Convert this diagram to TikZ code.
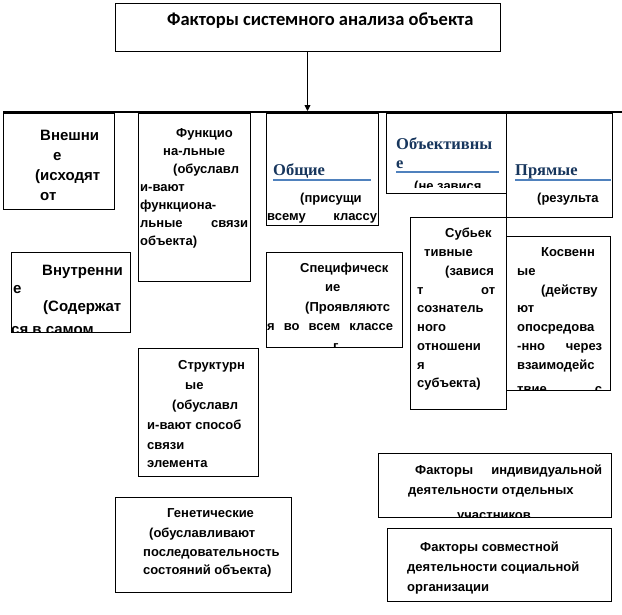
\documentclass[tikz,border=0pt]{standalone}
\usepackage{fontspec}
\setmainfont{Liberation Sans}
\newfontfamily\ttlfont{Carlito}
\newfontfamily\hdfont{Liberation Serif}
\usetikzlibrary{fit,arrows.meta}
\definecolor{hdblue}{RGB}{23,54,93}
\definecolor{lineblue}{RGB}{79,129,189}
\newcount\tlc
\newcommand\tl[4][tx]{\global\advance\tlc by 1 \node[#1,anchor=base west] (t\the\tlc) at (#2,#3) {#4};}
\newcommand\sj[2]{\makebox[#1pt][s]{#2}}
\tikzset{
  box/.style={draw=black,line width=0.9pt,inner sep=0pt},
  tx/.style={inner sep=0pt,font=\bfseries\fontsize{13}{15}\selectfont},
  bigtx/.style={inner sep=0pt,font=\bfseries\fontsize{15}{17}\selectfont},
  hd/.style={inner sep=0pt,text=hdblue,font=\hdfont\bfseries\fontsize{16.5}{18}\selectfont},
  ttl/.style={inner sep=0pt,font=\ttlfont\bfseries\fontsize{18.5}{20}\selectfont},
  uline/.style={draw=lineblue,line width=1.5pt},
}
\begin{document}
\begin{tikzpicture}[x=1pt,y=-1pt]
\useasboundingbox (0,0) rectangle (622,614);
% title
\node[box,fit={(115,3) (500,51)}] (title) {};
\tl[ttl]{167}{25}{Факторы системного анализа объекта}
% bar
\coordinate (barL) at (3,112);
\coordinate (barR) at (622,112);
\draw[line width=2pt] (barL) -- (barR);
\coordinate (tip) at (title.south |- barL);
\draw[line width=0.9pt,-{Triangle[length=6pt,width=6pt]}] (title.south) -- ([yshift=1pt]tip);

% Внешние
\node[box,fit={(3,113) (114,209)}] (ext) {};
\begin{scope}\clip (ext.south west) rectangle (ext.north east);
\tl[bigtx]{40}{140}{Внешни}
\tl[bigtx]{53}{160}{е}
\tl[bigtx]{35}{180}{(исходят}
\tl[bigtx]{40}{200}{от}
\end{scope}

% Функциональные
\node[box,fit={(138,113) (250,281)}] (func) {};
\begin{scope}\clip (func.south west) rectangle (func.north east);
\tl{176}{137}{Функцио}
\tl{163}{155}{на-льные}
\tl{173}{173}{(обуславл}
\tl{140}{191}{и-вают}
\tl{140}{209}{функциона-}
\tl{140}{227}{\sj{108}{льные связи}}
\tl{140}{245}{объекта)}
\end{scope}

% Общие
\node[box,fit={(266,113) (378,225)}] (gen) {};
\begin{scope}\clip (gen.south west) rectangle (gen.north east);
\tl[hd]{273}{175}{Общие}
\draw[uline] (273,180) -- (371,180);
\tl{300}{202}{(присущи}
\tl{267}{220}{\sj{110}{всему классу}}
\end{scope}

% Объективные
\node[box,fit={(386,113) (506,193)}] (obj) {};
\begin{scope}\clip (obj.south west) rectangle (obj.north east);
\tl[hd]{396}{149}{Объективны}
\tl[hd]{396}{168}{е}
\draw[uline] (396,172) -- (499,172);
\end{scope}
\begin{scope}\clip (386,177) rectangle (506,187);
\tl{414}{190}{(не завися}
\end{scope}

% Прямые
\node[box,fit={(506,113) (612,217)}] (dir) {};
\begin{scope}\clip (dir.south west) rectangle (dir.north east);
\tl[hd]{515}{175}{Прямые}
\draw[uline] (515,180) -- (611,180);
\tl{537}{202}{(результа}
\end{scope}

% Внутренние
\node[box,fit={(11,252) (130,332)}] (int) {};
\begin{scope}\clip (int.south west) rectangle (int.north east);
\tl[bigtx]{42}{275}{Внутренни}
\tl[bigtx]{13}{293}{е}
\tl[bigtx]{43}{311}{(Содержат}
\tl[bigtx]{11}{334}{ся в самом}
\end{scope}

% Специфические
\node[box,fit={(266,252) (402,347)}] (spec) {};
\begin{scope}\clip (spec.south west) rectangle (spec.north east);
\tl{300}{272}{Специфическ}
\tl{325}{291}{ие}
\tl{305}{311}{(Проявляютс}
\tl{267}{330}{\sj{126}{я во всем классе}}
\tl{333}{350}{г}
\end{scope}

% Субъективные
\node[box,fit={(410,217) (506,409)}] (subj) {};
\begin{scope}\clip (subj.south west) rectangle (subj.north east);
\tl{445}{237}{Субьек}
\tl{424}{256}{тивные}
\tl{445}{275}{(завися}
\tl{417}{294}{\sj{78}{т от}}
\tl{417}{312}{сознатель}
\tl{417}{331}{ного}
\tl{417}{350}{отношени}
\tl{417}{369}{я}
\tl{417}{387}{субъекта)}
\end{scope}

% Косвенные
\node[box,fit={(506,236) (610,390)}] (ind) {};
\begin{scope}\clip (ind.south west) rectangle (ind.north east);
\tl{541}{256}{Косвенн}
\tl{517}{275}{ые}
\tl{541}{294}{(действу}
\tl{517}{312}{ют}
\tl{517}{331}{опосредова}
\tl{517}{350}{\sj{85}{-нно через}}
\tl{517}{369}{взаимодейс}
\tl{517}{393}{\sj{85}{твие с}}
\end{scope}

% Структурные
\node[box,fit={(138,348) (258,476)}] (str) {};
\begin{scope}\clip (str.south west) rectangle (str.north east);
\tl{178}{369}{Структурн}
\tl{185}{389}{ые}
\tl{172}{409}{(обуславл}
\tl{147}{429}{и-вают способ}
\tl{147}{449}{связи}
\tl{147}{467}{элемента}
\end{scope}

% Генетические
\node[box,fit={(115,497) (291,592)}] (genet) {};
\begin{scope}\clip (genet.south west) rectangle (genet.north east);
\tl{167}{517}{Генетические}
\tl{149}{537}{(обуславливают}
\tl{143}{556}{последовательность}
\tl{143}{574}{состояний объекта)}
\end{scope}

% Факторы индивидуальной
\node[box,fit={(378,453) (611,517)}] (indiv) {};
\begin{scope}\clip (indiv.south west) rectangle (indiv.north east);
\tl{415}{474}{\sj{187}{Факторы индивидуальной}}
\tl{408}{494}{деятельности отдельных}
\tl{457}{519}{участников}
\end{scope}

% Факторы совместной
\node[box,fit={(387,528) (611,601)}] (joint) {};
\begin{scope}\clip (joint.south west) rectangle (joint.north east);
\tl{420}{551}{Факторы совместной}
\tl{407}{571}{деятельности социальной}
\tl{407}{591}{организации}
\end{scope}
\end{tikzpicture}
\end{document}
